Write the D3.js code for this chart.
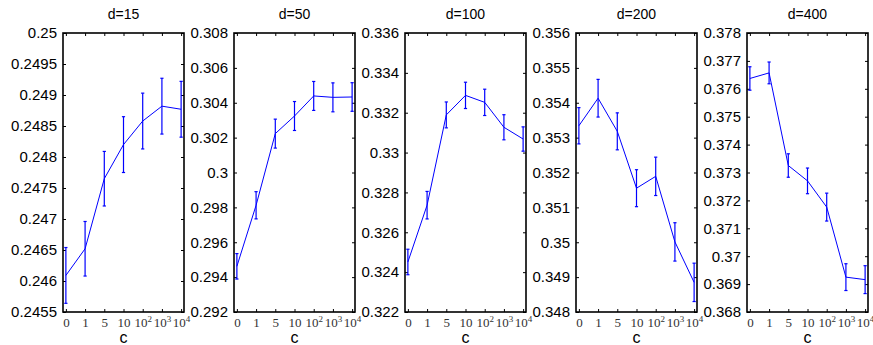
<!DOCTYPE html>
<html>
<head>
<meta charset="utf-8">
<script src="https://cdn.jsdelivr.net/npm/d3@7"></script>
<style>
body { margin:0; background:#fff; }
</style>
</head>
<body>
<script>
// values
var dims = [15, 50, 100, 200, 400];
var cLabels = ['0', '1', '5', '10', '10^2', '10^3', '10^4'];

var mean15  = [0.24609, 0.24652, 0.24765, 0.24820, 0.24858, 0.24882, 0.24877];
var err15   = [0.00045, 0.00044, 0.00044, 0.00045, 0.00045, 0.00045, 0.00045];
var mean50  = [0.29462, 0.29812, 0.30223, 0.30324, 0.30439, 0.30431, 0.30433];
var err50   = [0.00073, 0.00078, 0.00083, 0.00083, 0.00083, 0.00083, 0.00082];
var mean100 = [0.32451, 0.32736, 0.33189, 0.33287, 0.33252, 0.33127, 0.33068];
var err100  = [0.00064, 0.00069, 0.00065, 0.00066, 0.00066, 0.00063, 0.00061];
var mean200 = [0.35334, 0.35413, 0.35318, 0.35155, 0.35189, 0.35001, 0.34885];
var err200  = [0.00052, 0.00054, 0.00053, 0.00053, 0.00055, 0.00055, 0.00055];
var mean400 = [0.37637, 0.37657, 0.37325, 0.37270, 0.37176, 0.36925, 0.36916];
var err400  = [0.00042, 0.00039, 0.00042, 0.00046, 0.00050, 0.00048, 0.00050];

var yTicks15  = [0.2455, 0.246, 0.2465, 0.247, 0.2475, 0.248, 0.2485, 0.249, 0.2495, 0.25];
var yTicks50  = [0.292, 0.294, 0.296, 0.298, 0.3, 0.302, 0.304, 0.306, 0.308];
var yTicks100 = [0.322, 0.324, 0.326, 0.328, 0.33, 0.332, 0.334, 0.336];
var yTicks200 = [0.348, 0.349, 0.35, 0.351, 0.352, 0.353, 0.354, 0.355, 0.356];
var yTicks400 = [0.368, 0.369, 0.37, 0.371, 0.372, 0.373, 0.374, 0.375, 0.376, 0.377, 0.378];

var means = [mean15, mean50, mean100, mean200, mean400];
var errs = [err15, err50, err100, err200, err400];
var yTicks = [yTicks15, yTicks50, yTicks100, yTicks200, yTicks400];

var params = {
  width:873
, height:345
, left:63
, step:171
, pw:121
, top:33
, bottom:312
};

var svg = d3.select('body').append('svg')
  .attr('width', params.width)
  .attr('height', params.height)
  .style('font-family', '"Liberation Sans", Arial, sans-serif');

dims.forEach(function(d, i) {
  var x0 = params.left + i * params.step;
  var ticks = yTicks[i];
  var x = d3.scaleLinear().domain([-0.15, cLabels.length - 0.85]).range([x0, x0 + params.pw]);
  var y = d3.scaleLinear().domain([ticks[0], ticks[ticks.length - 1]]).range([params.bottom, params.top]);
  var g = svg.append('g');
  var idx = d3.range(cLabels.length);

  // axes, ticks pointing inward on all four sides
  var yl = g.append('g').attr('transform', 'translate(' + x0 + ',0)')
    .call(d3.axisLeft(y).tickValues(ticks).tickSize(-3).tickPadding(6)
      .tickFormat(function(v) { return String(+v.toFixed(4)); }));
  yl.selectAll('text').style('font-size', '15px').style('font-family', '"Liberation Sans", Arial, sans-serif').attr('fill', '#000');

  g.append('g').attr('transform', 'translate(' + (x0 + params.pw) + ',0)')
    .call(d3.axisRight(y).tickValues(ticks).tickSize(-3).tickFormat(''));

  var xb = g.append('g').attr('transform', 'translate(0,' + params.bottom + ')')
    .call(d3.axisBottom(x).tickValues(idx).tickSize(-3).tickPadding(6).tickFormat(''));
  xb.selectAll('.tick text').each(function(k) {
    var t = d3.select(this)
      .attr('fill', '#333')
      .style('font-family', '"Liberation Serif", "Times New Roman", serif')
      .style('font-size', '13px');
    var lab = cLabels[k].split('^');
    t.append('tspan').text(lab[0]);
    if (lab.length > 1) {
      t.append('tspan').attr('dy', '-5').style('font-size', '9px').text(lab[1]);
    }
  });

  g.append('g').attr('transform', 'translate(0,' + params.top + ')')
    .call(d3.axisTop(x).tickValues(idx).tickSize(-3).tickFormat(''));

  g.selectAll('.domain').remove();
  g.selectAll('.tick line').attr('stroke', '#000').attr('stroke-width', 1);

  // frame
  g.append('rect')
    .attr('x', x0)
    .attr('y', params.top)
    .attr('width', params.pw)
    .attr('height', params.bottom - params.top)
    .attr('fill', 'none')
    .attr('stroke', '#000')
    .attr('stroke-width', 1.6);

  // error bars
  var m = means[i], e = errs[i];
  var eb = g.append('g').attr('stroke', '#0000ff').attr('stroke-width', 1.2).attr('fill', 'none');
  eb.selectAll('line.v').data(idx).enter().append('line').attr('class', 'v')
    .attr('x1', function(k) { return x(k); })
    .attr('x2', function(k) { return x(k); })
    .attr('y1', function(k) { return y(m[k] - e[k]); })
    .attr('y2', function(k) { return y(m[k] + e[k]); });
  eb.selectAll('line.t').data(idx).enter().append('line').attr('class', 't')
    .attr('x1', function(k) { return x(k) - 1.6; })
    .attr('x2', function(k) { return x(k) + 1.6; })
    .attr('y1', function(k) { return y(m[k] + e[k]); })
    .attr('y2', function(k) { return y(m[k] + e[k]); });
  eb.selectAll('line.b').data(idx).enter().append('line').attr('class', 'b')
    .attr('x1', function(k) { return x(k) - 1.6; })
    .attr('x2', function(k) { return x(k) + 1.6; })
    .attr('y1', function(k) { return y(m[k] - e[k]); })
    .attr('y2', function(k) { return y(m[k] - e[k]); });

  // mean line
  g.append('path')
    .datum(idx)
    .attr('d', d3.line().x(function(k) { return x(k); }).y(function(k) { return y(m[k]); }))
    .attr('fill', 'none')
    .attr('stroke', '#0000ff')
    .attr('stroke-width', 1);

  // title and x label
  g.append('text')
    .attr('x', x0 + params.pw / 2)
    .attr('y', 18.5)
    .attr('text-anchor', 'middle')
    .style('font-size', '14px')
    .text('d=' + d);

  g.append('text')
    .attr('x', x0 + params.pw / 2)
    .attr('y', 342.5)
    .attr('text-anchor', 'middle')
    .style('font-size', '16px')
    .text('c');
});
</script>
</body>
</html>
